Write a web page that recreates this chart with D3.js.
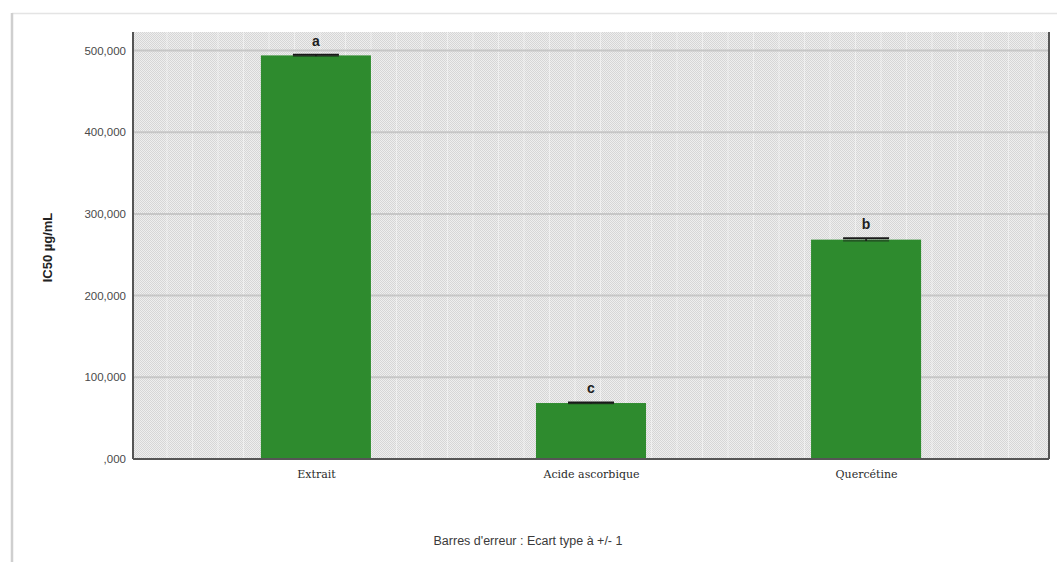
<!DOCTYPE html>
<html>
<head>
<meta charset="utf-8">
<script src="https://cdn.jsdelivr.net/npm/d3@7"></script>
<style>
  html, body { margin: 0; padding: 0; background: #ffffff; }
  svg { display: block; }
</style>
</head>
<body>
<svg id="chart" width="1057" height="562"></svg>
<script>
// IC50 values (µg/mL) with standard deviations and significance letters
const categories = ["Extrait", "Acide ascorbique", "Quercétine"];
const means = [494000, 68500, 268500];
const sds = [900, 700, 1600];
const letters = ["a", "c", "b"];
const yTicks = [0, 100000, 200000, 300000, 400000, 500000];
const yTitle = "IC50 µg/mL";
const footnote = "Barres d'erreur : Ecart type à +/- 1";

const svg = d3.select("#chart");
const W = 1057, H = 562;
const plot = { left: 133, right: 1049, top: 32, bottom: 459 };

// frame of the output panel
svg.append("line").attr("x1", 12).attr("x2", W).attr("y1", 13.5).attr("y2", 13.5)
  .attr("stroke", "#e4e4e4").attr("stroke-width", 1.5);
svg.append("line").attr("x1", 12).attr("x2", 12).attr("y1", 13).attr("y2", H)
  .attr("stroke", "#cfcfcf").attr("stroke-width", 2.5);

// fine dotted fill of the plot area
const defs = svg.append("defs");
const pat = defs.append("pattern").attr("id", "dots")
  .attr("patternUnits", "userSpaceOnUse").attr("width", 2).attr("height", 2);
pat.append("rect").attr("width", 2).attr("height", 2).attr("fill", "#eeeeee");
pat.append("rect").attr("width", 1).attr("height", 1).attr("fill", "#d6d6d6");
pat.append("rect").attr("x", 1).attr("y", 1).attr("width", 1).attr("height", 1).attr("fill", "#d6d6d6");

const x = d3.scalePoint().domain(categories)
  .range([plot.left, plot.right]).padding(0.665);
const y = d3.scaleLinear().domain([0, 500000])
  .range([plot.bottom, plot.bottom - 408.5]);
const barW = x.step() * 0.4;

svg.append("rect")
  .attr("x", plot.left).attr("y", plot.top)
  .attr("width", plot.right - plot.left).attr("height", plot.bottom - plot.top)
  .attr("fill", "url(#dots)");

// light vertical streaks in the fill texture
const streaks = d3.range(plot.left + 34, plot.right, 25.5);
svg.append("g").selectAll("line").data(streaks).join("line")
  .attr("x1", d => d).attr("x2", d => d)
  .attr("y1", plot.top).attr("y2", plot.bottom)
  .attr("stroke", "#f8f8f8").attr("stroke-width", 1).attr("opacity", 0.6);

// horizontal gridlines
svg.append("g").selectAll("line").data(yTicks.filter(d => d > 0)).join("line")
  .attr("x1", plot.left).attr("x2", plot.right)
  .attr("y1", d => y(d)).attr("y2", d => y(d))
  .attr("stroke", "#c6c6c6").attr("stroke-width", 2);

// bars
svg.append("g").selectAll("rect").data(categories).join("rect")
  .attr("x", d => x(d) - barW / 2)
  .attr("width", barW)
  .attr("y", (d, i) => y(means[i]))
  .attr("height", (d, i) => y(0) - y(means[i]))
  .attr("fill", "#2e8b2e");

// error bars (±1 SD)
const capW = 46;
const eb = svg.append("g").attr("stroke", "#1a1a1a");
categories.forEach((c, i) => {
  const cx = x(c);
  eb.append("line").attr("x1", cx).attr("x2", cx)
    .attr("y1", y(means[i] - sds[i])).attr("y2", y(means[i] + sds[i]))
    .attr("stroke-width", 1.5);
  eb.append("line").attr("x1", cx - capW / 2).attr("x2", cx + capW / 2)
    .attr("y1", y(means[i] + sds[i])).attr("y2", y(means[i] + sds[i]))
    .attr("stroke-width", 2);
  eb.append("line").attr("x1", cx - capW / 2).attr("x2", cx + capW / 2)
    .attr("y1", y(means[i] - sds[i])).attr("y2", y(means[i] - sds[i]))
    .attr("stroke-width", 1.2).attr("opacity", 0.6);
});

// significance letters
svg.append("g").selectAll("text").data(categories).join("text")
  .attr("x", d => x(d))
  .attr("y", (d, i) => y(means[i] + sds[i]) - 9)
  .attr("text-anchor", "middle")
  .attr("font-family", "Liberation Sans, Arial, sans-serif")
  .attr("font-weight", "bold").attr("font-size", 14)
  .attr("fill", "#1e1e1e")
  .text((d, i) => letters[i]);

// plot border: left axis, bottom axis, right edge
svg.append("line").attr("x1", plot.left).attr("x2", plot.left)
  .attr("y1", plot.top).attr("y2", plot.bottom)
  .attr("stroke", "#555").attr("stroke-width", 2);
svg.append("line").attr("x1", plot.left).attr("x2", plot.right)
  .attr("y1", plot.bottom).attr("y2", plot.bottom)
  .attr("stroke", "#555").attr("stroke-width", 2);
svg.append("line").attr("x1", plot.right).attr("x2", plot.right)
  .attr("y1", plot.top).attr("y2", plot.bottom)
  .attr("stroke", "#555").attr("stroke-width", 2);

// y axis labels
const yAxis = d3.axisLeft(y).tickValues(yTicks).tickSize(0).tickPadding(7)
  .tickFormat(v => v === 0 ? ",000" : (v / 1000) + ",000");
const gy = svg.append("g").attr("transform", `translate(${plot.left},0)`).call(yAxis);
gy.select(".domain").remove();
gy.selectAll("text")
  .attr("font-family", "Liberation Sans, Arial, sans-serif")
  .attr("font-size", 11.5).attr("fill", "#4a4a4a");

// x axis labels
const xAxis = d3.axisBottom(x).tickSize(0).tickPadding(11);
const gx = svg.append("g").attr("transform", `translate(0,${plot.bottom})`).call(xAxis);
gx.select(".domain").remove();
gx.selectAll("text")
  .attr("font-family", "DejaVu Serif, Liberation Serif, serif")
  .attr("font-size", 11).attr("fill", "#2a2a2a");

// y axis title
svg.append("text")
  .attr("transform", `translate(52,${(plot.top + plot.bottom) / 2 + 2}) rotate(-90)`)
  .attr("text-anchor", "middle")
  .attr("font-family", "Liberation Sans, Arial, sans-serif")
  .attr("font-weight", "bold").attr("font-size", 13).attr("fill", "#222")
  .text(yTitle);

// footnote
svg.append("text")
  .attr("x", 528).attr("y", 545)
  .attr("text-anchor", "middle")
  .attr("font-family", "Liberation Sans, Arial, sans-serif")
  .attr("font-size", 12.5).attr("fill", "#3a3a3a")
  .text(footnote);
</script>
</body>
</html>
